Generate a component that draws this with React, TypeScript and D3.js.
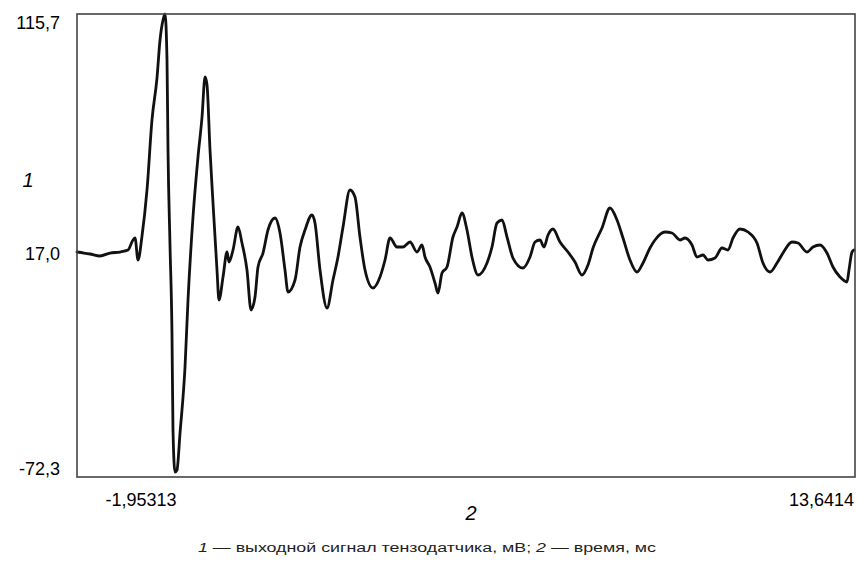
import React from "react";
import * as d3 from "d3";

// time, ms
const timeMs = [
  -1.953, -1.813, -1.693, -1.492, -1.292, -1.091, -0.931, -0.831, -0.79, -0.73,
  -0.65, -0.55, -0.45, -0.35, -0.289, -0.229, -0.189, -0.149, -0.129, -0.089,
  -0.049, -0.029, 0.011, 0.051, 0.112, 0.212, 0.272, 0.372, 0.472, 0.553,
  0.613, 0.653, 0.713, 0.773, 0.853, 0.893, 0.974, 1.054, 1.094, 1.174,
  1.274, 1.354, 1.454, 1.535, 1.615, 1.675, 1.775, 1.875, 2.016, 2.116,
  2.216, 2.276, 2.417, 2.517, 2.617, 2.757, 2.817, 2.918, 3.058, 3.178,
  3.278, 3.379, 3.519, 3.619, 3.719, 3.82, 3.98, 4.12, 4.221, 4.321,
  4.461, 4.581, 4.722, 4.862, 4.962, 5.022, 5.122, 5.223, 5.283, 5.363,
  5.463, 5.583, 5.664, 5.764, 5.864, 5.964, 6.085, 6.265, 6.365, 6.465,
  6.566, 6.666, 6.786, 6.986, 7.127, 7.227, 7.327, 7.407, 7.488, 7.588,
  7.728, 7.888, 8.029, 8.169, 8.289, 8.39, 8.57, 8.73, 8.871, 8.991,
  9.131, 9.272, 9.392, 9.532, 9.632, 9.833, 9.973, 10.134, 10.234, 10.374,
  10.474, 10.595, 10.695, 10.835, 10.975, 11.096, 11.196, 11.336, 11.497, 11.677,
  11.797, 11.938, 12.078, 12.198, 12.378, 12.499, 12.679, 12.799, 12.94, 13.08,
  13.2, 13.341, 13.481, 13.521, 13.581, 13.621,
];

// strain gauge output, mV
const signalMv = [
  19.06, 18.65, 18.25, 17.44, 18.65, 19.06, 19.87, 23.93, 24.74, 15.81,
  25.56, 44.24, 72.66, 89.71, 105.14, 113.26, 115.7, 97.02, 60.48, 21.9,
  -14.64, -53.22, -70.27, -69.46, -54.43, -27.64, -0.43, 33.27, 57.63, 73.88,
  90.12, 86.87, 60.48, 38.96, 11.75, -0.43, 8.91, 19.06, 14.98, 19.87,
  29.21, 22.71, 11.75, -4.49, 0.79, 12.97, 18.65, 27.99, 32.87, 26.77,
  11.75, 2.82, 7.69, 21.09, 27.99, 34.08, 30.83, 11.75, -3.68, 7.69,
  17.03, 29.21, 44.24, 41.39, 25.15, 11.75, 4.44, 8.91, 15.81, 24.74,
  21.09, 21.09, 23.12, 19.06, 21.9, 17.03, 12.97, 6.47, 2.41, 10.53,
  12.97, 25.15, 29.21, 34.89, 27.99, 17.03, 9.72, 14.59, 21.09, 30.83,
  32.05, 25.15, 16.62, 12.56, 17.03, 23.12, 23.93, 21.09, 25.96, 28.4,
  23.12, 19.06, 14.98, 9.72, 13.78, 20.68, 28.81, 36.93, 32.05, 24.74,
  15.81, 10.94, 14.59, 20.68, 23.93, 27.18, 26.77, 23.93, 24.74, 21.9,
  17.03, 17.84, 15.81, 16.62, 20.68, 19.87, 24.74, 28.4, 27.18, 22.71,
  14.59, 10.94, 14.59, 18.65, 23.12, 22.71, 19.06, 21.09, 21.9, 18.65,
  12.97, 8.91, 6.88, 11.75, 19.06, 19.87,
];

const yTickValues = [115.7, 17.0, -72.3];
const yTickLabels = ["115,7", "17,0", "-72,3"];
const xTickValues = [-1.95313, 13.6414];
const xTickLabels = ["-1,95313", "13,6414"];
const yAxisName = "1";
const xAxisName = "2";
const captionParts = [
  { text: "1", italic: true },
  { text: " — выходной сигнал тензодатчика, мВ; ", italic: false },
  { text: "2", italic: true },
  { text: " — время, мс", italic: false },
];

const W = 857;
const H = 569;
const M = { left: 77, top: 14, right: 2, bottom: 92 };
const FONT = "'Liberation Sans', Arial, sans-serif";

export default function App() {
  const x = d3
    .scaleLinear()
    .domain([xTickValues[0], xTickValues[1]])
    .range([M.left, W - M.right]);
  const y = d3
    .scaleLinear()
    .domain([yTickValues[2], yTickValues[0]])
    .range([H - M.bottom, M.top]);

  const pts = timeMs.map((t, i) => [t, signalMv[i]] as [number, number]);
  const line = d3
    .line<[number, number]>()
    .x((d) => x(d[0]))
    .y((d) => y(d[1]))
    .curve(d3.curveMonotoneX);

  const yOffsets = [9, -3, -8];

  return (
    <svg
      width={W}
      height={H}
      style={{ position: "absolute", left: 0, top: 0, background: "#fff" }}
      fontFamily={FONT}
    >
      <rect x={0} y={0} width={W} height={H} fill="#fff" />
      <path
        d={line(pts) || ""}
        fill="none"
        stroke="#111"
        strokeWidth={2.8}
        strokeLinejoin="round"
        strokeLinecap="round"
      />
      <rect
        x={M.left}
        y={M.top}
        width={W - M.left - M.right}
        height={H - M.top - M.bottom}
        fill="none"
        stroke="#444"
        strokeWidth={1.6}
      />
      {yTickValues.map((v, i) => (
        <text
          key={"yt" + i}
          x={60}
          y={y(v) + yOffsets[i]}
          textAnchor="end"
          dominantBaseline="central"
          fontSize={18}
          fill="#000"
        >
          {yTickLabels[i]}
        </text>
      ))}
      <text
        x={x(xTickValues[0]) + 64}
        y={500}
        textAnchor="middle"
        dominantBaseline="central"
        fontSize={18}
        fill="#000"
      >
        {xTickLabels[0]}
      </text>
      <text
        x={x(xTickValues[1]) - 1}
        y={500}
        textAnchor="end"
        dominantBaseline="central"
        fontSize={18}
        fill="#000"
      >
        {xTickLabels[1]}
      </text>
      <text
        x={28}
        y={180}
        textAnchor="middle"
        dominantBaseline="central"
        fontSize={20}
        fontStyle="italic"
        fill="#000"
      >
        {yAxisName}
      </text>
      <text
        x={471}
        y={513}
        textAnchor="middle"
        dominantBaseline="central"
        fontSize={20}
        fontStyle="italic"
        fill="#000"
      >
        {xAxisName}
      </text>
      <text
        x={198}
        y={548}
        dominantBaseline="central"
        fontSize={12}
        fill="#222"
        textLength={458}
        lengthAdjust="spacingAndGlyphs"
      >
        {captionParts.map((p, i) => (
          <tspan key={i} fontStyle={p.italic ? "italic" : "normal"}>
            {p.text}
          </tspan>
        ))}
      </text>
    </svg>
  );
}
